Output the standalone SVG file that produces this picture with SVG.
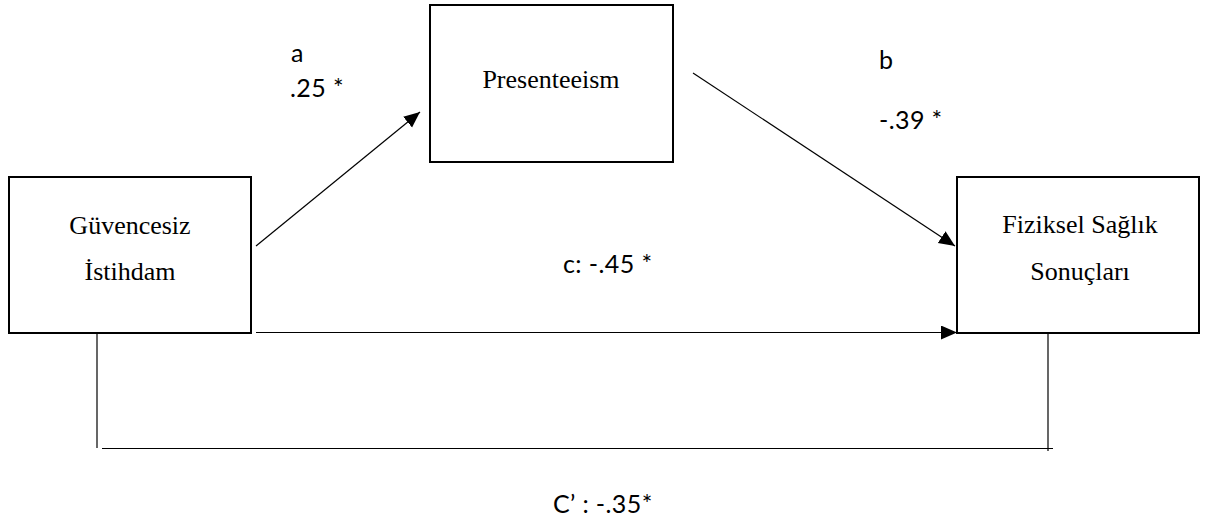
<svg xmlns="http://www.w3.org/2000/svg" width="1211" height="527" viewBox="0 0 1211 527">
<style>
.box{fill:#fff;stroke:#000;stroke-width:2}
.lbl{font-family:"Liberation Serif","Times New Roman",serif;font-size:26px;fill:#000;text-anchor:middle}
.coef{font-family:Lato,"Open Sans",sans-serif;font-size:25px;fill:#000;letter-spacing:0.4px}
.conn{fill:none;stroke:#000;stroke-width:1.2}
</style>
<defs>
<marker id="arr" markerUnits="userSpaceOnUse" markerWidth="17" markerHeight="15" refX="16" refY="7" orient="auto">
<path d="M0,0 L16,7 L0,14 z" fill="#000"/>
</marker>
</defs>
<rect width="1211" height="527" fill="#fff"/>
<g id="connectors">
<line class="conn" x1="256" y1="246" x2="420" y2="112" marker-end="url(#arr)"/>
<line class="conn" x1="693" y1="73" x2="955" y2="246" marker-end="url(#arr)"/>
<line class="conn" x1="256" y1="332.5" x2="957" y2="332.5" stroke-width="1.4" marker-end="url(#arr)"/>
<line class="conn" x1="97" y1="333" x2="97" y2="448"/>
<line class="conn" x1="102" y1="448.5" x2="1053" y2="448.5" stroke-width="1.4"/>
<line class="conn" x1="1048" y1="333" x2="1048" y2="451"/>
</g>
<g id="node-guvencesiz">
<rect class="box" x="9" y="177" width="242" height="156"/>
<text class="lbl" x="130" y="234">Güvencesiz</text>
<text class="lbl" x="130" y="280">İstihdam</text>
</g>
<g id="node-presenteeism">
<rect class="box" x="430" y="5" width="243" height="157"/>
<text class="lbl" x="551" y="88">Presenteeism</text>
</g>
<g id="node-fiziksel">
<rect class="box" x="957" y="177" width="242" height="156"/>
<text class="lbl" x="1080" y="233">Fiziksel Sağlık</text>
<text class="lbl" x="1080" y="280">Sonuçları</text>
</g>
<g id="labels">
<text class="coef" x="291" y="62">a</text>
<text class="coef" x="290" y="97">.25 *</text>
<text class="coef" x="879" y="69">b</text>
<text class="coef" x="879" y="129">-.39 *</text>
<text class="coef" x="563" y="273">c: -.45 *</text>
<text class="coef" x="553" y="513">C’ : -.35*</text>
</g>
</svg>
